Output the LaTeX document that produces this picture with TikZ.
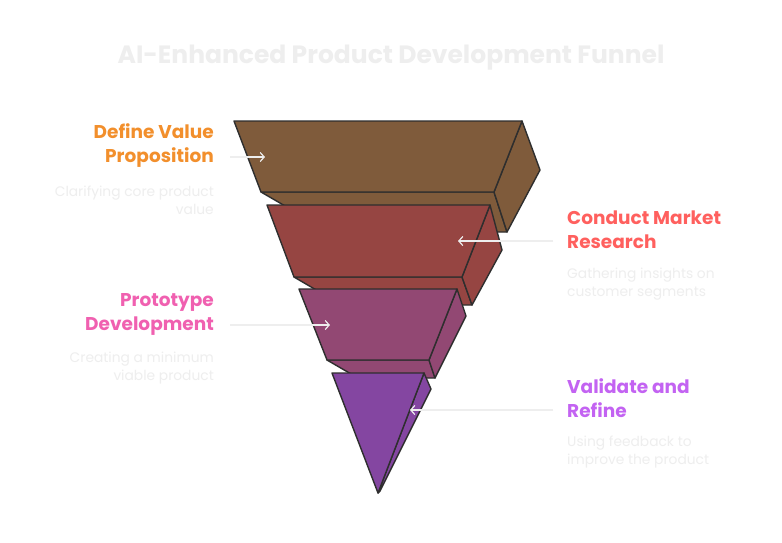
\documentclass[tikz,border=0pt]{standalone}
\usepackage{fontspec}
\setmainfont{Poppins}
\usetikzlibrary{arrows.meta}
\definecolor{segA}{HTML}{7F5B3B}
\definecolor{segB}{HTML}{964542}
\definecolor{segC}{HTML}{924873}
\definecolor{segD}{HTML}{8446A1}
\definecolor{edge}{HTML}{2E2E2E}
\definecolor{faint}{HTML}{EEEEEE}
\definecolor{labA}{HTML}{F28F2C}
\definecolor{labB}{HTML}{FF605E}
\definecolor{labC}{HTML}{F060B0}
\definecolor{labD}{HTML}{C363F2}
\begin{document}
\begin{tikzpicture}[x=1pt, y=-1pt,
  face/.style={draw=edge, line width=1.4pt, line join=round},
  lbl/.style={inner sep=0pt, font=\fontsize{18.5}{24}\selectfont\bfseries},
  desc/.style={inner sep=0pt, text=faint, font=\fontsize{13.8}{18}\selectfont},
  conn/.style={faint, line width=1.2pt, -{Straight Barb[length=4pt,width=9pt]}}]
  \useasboundingbox[fill=white] (0,0) rectangle (782,542);

  \node[inner sep=0pt, text=faint, font=\fontsize{25}{28}\selectfont\bfseries] (title) at (391,58) {AI-Enhanced Product Development Funnel};

  % funnel, back to front
  \filldraw[face, fill=segA] (261,192) -- (494,192) -- (507,232) -- (330,232) -- cycle;
  \filldraw[face, fill=segA] (522,121) -- (540,170) -- (507,232) -- (494,192) -- cycle;
  \filldraw[face, fill=segA] (234,121) -- (522,121) -- (494,192) -- (261,192) -- cycle;

  \filldraw[face, fill=segB] (294,277) -- (462,277) -- (472,305) -- (342,305) -- cycle;
  \filldraw[face, fill=segB] (490,205) -- (502,250) -- (472,305) -- (462,277) -- cycle;
  \filldraw[face, fill=segB] (267,205) -- (490,205) -- (462,277) -- (294,277) -- cycle;

  \filldraw[face, fill=segC] (327,360) -- (429,360) -- (435,378) -- (358,378) -- cycle;
  \filldraw[face, fill=segC] (457,289) -- (466,316) -- (435,378) -- (429,360) -- cycle;
  \filldraw[face, fill=segC] (299,289) -- (457,289) -- (429,360) -- (327,360) -- cycle;

  \filldraw[face, fill=segD] (424,373) -- (431,389) -- (380,491) -- (378,493) -- cycle;
  \filldraw[face, fill=segD] (332,373) -- (424,373) -- (378,493) -- cycle;

  % labels
  \node[lbl, text=labA, anchor=east, align=right] (define) at (214,146) {Define Value\\Proposition};
  \node[desc, anchor=east, align=right] (defineD) at (214,200) {Clarifying core product\\value};
  \node[lbl, text=labB, anchor=west, align=left] (market) at (567,230) {Conduct Market\\Research};
  \node[desc, anchor=west, align=left] (marketD) at (567,284) {Gathering insights on\\customer segments};
  \node[lbl, text=labC, anchor=east, align=right] (proto) at (214,314) {Prototype\\Development};
  \node[desc, anchor=east, align=right] (protoD) at (214,368) {Creating a minimum\\viable product};
  \node[lbl, text=labD, anchor=west, align=left] (valid) at (567,398) {Validate and\\Refine};
  \node[desc, anchor=west, align=left] (validD) at (567,452) {Using feedback to\\improve the product};

  % pointers
  \coordinate (defineT) at (230,157);
  \coordinate (defineH) at (265,157);
  \coordinate (marketT) at (553,241);
  \coordinate (marketH) at (458,241);
  \coordinate (protoT) at (230,325);
  \coordinate (protoH) at (330,325);
  \coordinate (validT) at (553,410);
  \coordinate (validH) at (410,410);
  \draw[conn] (defineT) -- (defineH);
  \draw[conn] (marketT) -- (marketH);
  \draw[conn] (protoT) -- (protoH);
  \draw[conn] (validT) -- (validH);
\end{tikzpicture}
\end{document}
